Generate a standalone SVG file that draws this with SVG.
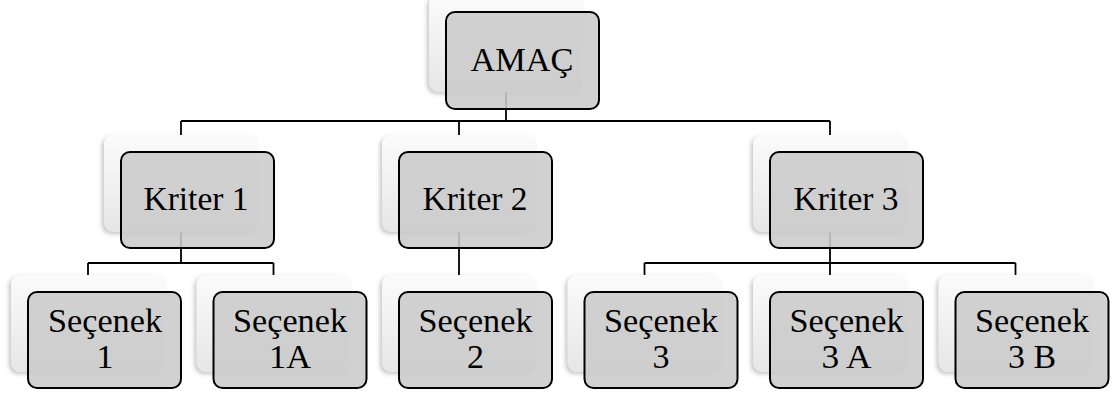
<svg xmlns="http://www.w3.org/2000/svg" width="1117" height="394" viewBox="0 0 1117 394">
<style>
.bk{fill:url(#bg);filter:url(#sh)}
.fr{fill:#cbcbcb;fill-opacity:0.88;stroke:#000;stroke-width:2}
.t{font-family:'Liberation Serif','DejaVu Serif','Noto Serif',Tinos,'Times New Roman',Times,serif;font-size:34px;fill:#000;text-anchor:middle}
.c{fill:none;stroke:#000;stroke-width:1.8}
</style>
<defs>
<linearGradient id="bg" x1="0" y1="0" x2="0" y2="1">
<stop offset="0" stop-color="#fbfbfb"/>
<stop offset="1" stop-color="#e6e6e6"/>
</linearGradient>
<filter id="sh" x="-10%" y="-10%" width="120%" height="125%">
<feDropShadow dx="-2" dy="2" stdDeviation="2" flood-color="#888" flood-opacity="0.5"/>
</filter>
</defs>
<g id="connectors">
<path class="c" d="M506,92V121M181,121H830M181,121V135M459,121V135M830,121V135"/>
<path class="c" d="M181,232V263M88,263H273.5M88,263V275M273.5,263V275"/>
<path class="c" d="M459,232V275"/>
<path class="c" d="M830,232V263M644.5,263H1015.5M644.5,263V275M830,263V275M1015.5,263V275"/>
</g>
<g id="amac">
<rect class="bk" x="429" y="-5" width="154" height="97" rx="9"/>
<rect class="fr" x="446" y="12" width="153" height="97" rx="9"/>
<text class="t" x="522" y="71" textLength="103" lengthAdjust="spacingAndGlyphs">AMAÇ</text>
</g>
<g id="kriter1">
<rect class="bk" x="104" y="135" width="154" height="97" rx="9"/>
<rect class="fr" x="121" y="152" width="153" height="96" rx="9"/>
<text class="t" x="196" y="210" textLength="105" lengthAdjust="spacingAndGlyphs">Kriter 1</text>
</g>
<g id="kriter2">
<rect class="bk" x="382" y="135" width="154" height="97" rx="9"/>
<rect class="fr" x="399" y="152" width="153" height="96" rx="9"/>
<text class="t" x="475" y="210" textLength="105" lengthAdjust="spacingAndGlyphs">Kriter 2</text>
</g>
<g id="kriter3">
<rect class="bk" x="753" y="135" width="154" height="97" rx="9"/>
<rect class="fr" x="770" y="152" width="153" height="96" rx="9"/>
<text class="t" x="846" y="210" textLength="105" lengthAdjust="spacingAndGlyphs">Kriter 3</text>
</g>
<g id="secenek1">
<rect class="bk" x="11" y="275" width="154" height="97" rx="9"/>
<rect class="fr" x="28" y="292" width="153" height="96" rx="9"/>
<text class="t" x="105" y="332" textLength="114" lengthAdjust="spacingAndGlyphs">Seçenek</text>
<text class="t" x="105" y="368">1</text>
</g>
<g id="secenek1a">
<rect class="bk" x="196.5" y="275" width="154" height="97" rx="9"/>
<rect class="fr" x="213.5" y="292" width="153" height="96" rx="9"/>
<text class="t" x="290" y="332" textLength="114" lengthAdjust="spacingAndGlyphs">Seçenek</text>
<text class="t" x="290" y="368" textLength="42" lengthAdjust="spacingAndGlyphs">1A</text>
</g>
<g id="secenek2">
<rect class="bk" x="382" y="275" width="154" height="97" rx="9"/>
<rect class="fr" x="399" y="292" width="153" height="96" rx="9"/>
<text class="t" x="475.5" y="332" textLength="114" lengthAdjust="spacingAndGlyphs">Seçenek</text>
<text class="t" x="475.5" y="368">2</text>
</g>
<g id="secenek3">
<rect class="bk" x="567.5" y="275" width="154" height="97" rx="9"/>
<rect class="fr" x="584.5" y="292" width="153" height="96" rx="9"/>
<text class="t" x="661" y="332" textLength="114" lengthAdjust="spacingAndGlyphs">Seçenek</text>
<text class="t" x="661" y="368">3</text>
</g>
<g id="secenek3a">
<rect class="bk" x="753" y="275" width="154" height="97" rx="9"/>
<rect class="fr" x="770" y="292" width="153" height="96" rx="9"/>
<text class="t" x="846.5" y="332" textLength="114" lengthAdjust="spacingAndGlyphs">Seçenek</text>
<text class="t" x="846.5" y="368" textLength="50" lengthAdjust="spacingAndGlyphs">3 A</text>
</g>
<g id="secenek3b">
<rect class="bk" x="938.5" y="275" width="154" height="97" rx="9"/>
<rect class="fr" x="955.5" y="292" width="153" height="96" rx="9"/>
<text class="t" x="1032" y="332" textLength="114" lengthAdjust="spacingAndGlyphs">Seçenek</text>
<text class="t" x="1032" y="368" textLength="48" lengthAdjust="spacingAndGlyphs">3 B</text>
</g>
</svg>
